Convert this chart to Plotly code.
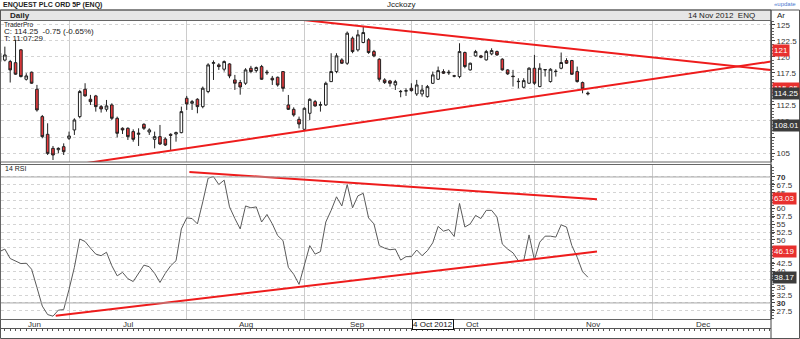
import plotly.graph_objects as go

# ---------------- data ----------------
# trading-day index k = 0 .. 110  (k=0 -> 13 Jun 2012, k=110 -> 15 Nov 2012)
opens = [120.58, 119.50, 119.27, 119.10, 121.10, 116.51, 117.61, 114.95, 110.68, 107.92,
         105.73, 105.52, 105.99, 107.30, 108.60, 110.68, 114.95, 113.39, 113.91, 112.24,
         111.83, 112.50, 110.42, 108.86, 108.86, 108.34, 107.92, 109.48, 108.28, 107.14,
         107.56, 107.19, 107.92, 107.97, 108.18, 113.55, 112.76, 113.39, 112.24, 114.59,
         119.00, 118.75, 118.08, 118.90, 116.41, 116.00, 115.89, 118.23, 117.86, 118.49,
         117.50, 116.67, 116.82, 117.71, 112.50, 111.82, 110.26, 108.70, 111.20, 113.02,
         112.45, 112.50, 116.14, 117.71, 119.53, 119.01, 122.92, 121.09, 122.24, 122.66,
         120.83, 119.63, 116.41, 116.25, 115.62, 114.63, 114.66, 115.10, 114.22, 114.22,
         113.80, 115.88, 116.51, 117.71, 117.50, 117.05, 116.93, 120.68, 117.97, 120.16,
         120.16, 119.53, 120.47, 120.83, 119.64, 117.97, 117.00, 116.20, 115.26, 115.89,
         118.23, 115.37, 117.97, 116.15, 117.71, 118.23, 119.43, 119.43, 117.71, 115.99,
         114.35]
highs = [121.10, 121.60, 119.53, 122.66, 121.20, 117.45, 117.71, 115.63, 110.94, 109.64,
         106.10, 105.89, 106.51, 108.34, 110.42, 114.85, 115.89, 114.07, 114.07, 112.50,
         113.28, 112.76, 110.68, 109.01, 109.01, 108.70, 108.86, 109.64, 108.86, 108.34,
         109.38, 107.45, 108.08, 108.34, 112.24, 113.91, 113.28, 113.55, 115.37, 119.01,
         119.45, 119.01, 119.45, 119.01, 117.19, 116.40, 118.24, 118.60, 118.49, 118.75,
         117.97, 117.03, 116.93, 117.75, 114.06, 112.13, 110.68, 112.13, 113.54, 113.28,
         113.02, 116.14, 120.57, 120.57, 119.79, 123.96, 123.18, 124.22, 124.74, 122.92,
         121.09, 119.79, 116.67, 116.41, 116.41, 114.84, 115.10, 115.88, 116.41, 115.62,
         115.62, 117.71, 118.49, 118.07, 117.97, 117.19, 122.13, 120.83, 119.11, 121.09,
         120.31, 121.09, 121.35, 120.99, 119.79, 118.07, 117.97, 116.67, 116.67, 118.39,
         120.31, 119.01, 118.07, 118.23, 118.07, 120.68, 119.79, 119.53, 118.49, 116.15,
         114.60]
lows = [118.90, 119.30, 116.00, 117.20, 116.80, 116.31, 115.80, 111.46, 107.30, 104.69,
        103.91, 104.95, 104.69, 107.04, 107.82, 110.42, 113.81, 112.50, 111.46, 111.31,
        111.46, 110.16, 107.45, 107.97, 107.04, 106.77, 106.10, 108.60, 107.82, 105.73,
        106.25, 106.10, 105.47, 106.77, 108.08, 111.72, 111.72, 111.20, 111.98, 114.33,
        116.40, 117.97, 117.71, 116.67, 114.85, 114.10, 115.63, 117.45, 117.55, 116.41,
        117.19, 115.62, 115.36, 114.58, 111.72, 110.68, 108.85, 108.59, 110.16, 112.24,
        111.46, 112.34, 116.10, 117.45, 118.90, 118.75, 120.57, 120.83, 122.13, 120.47,
        119.95, 116.14, 115.78, 115.36, 114.84, 113.70, 113.91, 114.58, 113.91, 113.80,
        113.65, 115.78, 116.41, 117.34, 117.19, 116.82, 116.67, 118.23, 117.86, 120.05,
        119.79, 119.43, 120.26, 120.16, 117.86, 117.19, 115.37, 115.11, 115.11, 115.78,
        115.63, 115.26, 116.93, 115.99, 116.93, 118.07, 118.91, 117.19, 115.99, 114.32,
        114.00]
closes = [119.27, 120.30, 117.97, 117.30, 116.93, 117.03, 115.89, 111.72, 107.56, 104.95,
          104.69, 105.73, 105.21, 107.66, 110.16, 114.59, 113.91, 113.02, 112.24, 111.88,
          112.35, 110.42, 108.08, 108.60, 107.56, 107.14, 108.08, 108.86, 108.60, 107.56,
          106.41, 106.25, 107.76, 108.18, 111.46, 112.66, 113.02, 112.24, 115.11, 118.75,
          119.10, 118.49, 119.27, 117.03, 115.89, 115.30, 117.97, 117.71, 118.33, 116.51,
          117.60, 116.41, 115.62, 115.10, 111.82, 110.94, 109.53, 111.98, 113.38, 112.34,
          112.55, 115.88, 117.71, 120.16, 119.01, 123.70, 120.83, 123.44, 123.80, 120.68,
          120.16, 116.51, 115.99, 115.88, 116.14, 114.58, 114.72, 114.74, 115.62, 114.84,
          115.36, 117.19, 117.86, 117.45, 117.60, 117.00, 120.83, 118.49, 119.01, 120.83,
          119.95, 120.83, 120.99, 120.31, 117.97, 117.35, 116.93, 116.15, 116.30, 118.23,
          115.89, 118.23, 118.02, 118.07, 117.75, 119.12, 119.01, 117.29, 116.15, 115.00,
          114.25]
rsi = [46.3, 47.1, 44.1, 43.2, 42.5, 42.6, 40.7, 34.9, 29.0, 26.3,
       25.8, 27.7, 27.9, 34.3, 41.3, 50.3, 49.5, 47.4, 45.5, 45.0,
       46.1, 41.8, 38.6, 39.7, 37.7, 36.8, 39.4, 42.0, 41.5, 39.4,
       36.5, 39.4, 41.8, 43.4, 53.5, 57.0, 56.8, 55.1, 62.1, 69.6,
       70.1, 67.6, 69.0, 60.5, 56.8, 53.5, 60.8, 60.2, 60.5, 55.7,
       58.1, 55.1, 51.4, 49.8, 41.3, 39.1, 35.9, 42.0, 48.2, 45.5,
       46.3, 55.7, 59.4, 63.7, 60.8, 67.6, 60.2, 64.0, 64.8, 57.0,
       55.1, 48.2, 47.4, 46.9, 47.1, 43.6, 44.7, 44.7, 46.8, 45.0,
       46.6, 49.1, 54.3, 52.8, 53.3, 51.1, 61.6, 54.1, 55.1, 57.8,
       56.8, 59.4, 59.4, 57.3, 48.7, 47.1, 45.9, 43.4, 43.4, 51.6,
       43.7, 49.3, 51.2, 51.2, 50.9, 54.8, 54.1, 48.2, 44.5, 39.9,
       38.17]
day_index = list(range(len(closes)))

month_names = ["Jun", "Jul", "Aug", "Sep", "Oct", "Nov", "Dec"]
month_edges = [0, 13, 35, 57, 77, 100, 122, 141]   # first session index of each month
x_range = [0.28, 144.23]

price_ticks = [105, 107.5, 110, 112.5, 115, 117.5, 120, 122.5, 125]
price_hidden = [107.5, 115]          # tick labels covered by value tags
rsi_ticks = [27.5, 30, 32.5, 35, 37.5, 40, 42.5, 45, 47.5, 50, 52.5, 55, 57.5, 60, 62.5, 65, 67.5, 70]
rsi_hidden = [37.5, 45, 62.5]
price_range = [103.6, 125.6]
rsi_range = [24.9, 73.8]

# trend lines (index, value)
price_upper_x, price_upper_y = [56.3, 144.23], [125.8, 117.94]
price_lower_x, price_lower_y = [16.3, 144.23], [103.44, 119.27]
rsi_upper_x, rsi_upper_y = [35.5, 111.7], [71.6, 62.9]
rsi_lower_x, rsi_lower_y = [10.5, 111.7], [25.9, 46.3]

# value tags on the axes
price_tags = [("121", 121.0, "#e8302e"), ("115.05", 115.05, "#e8302e"),
              ("114.25", 114.25, "#3c3c3c"), ("108.01", 109.3, "#3c3c3c")]
rsi_tags = [("63.03", 63.03, "#e8302e"), ("46.19", 46.19, "#e8302e"), ("38.17", 38.17, "#3c3c3c")]

# ---------------- figure ----------------
W, H = 800, 339
def px(x):
    return x / W
def py(y):
    return 1 - y / H

FONT = "Liberation Sans"
RED = "#ee1c1c"

fig = go.Figure()
fig.add_trace(go.Candlestick(
    x=day_index, open=opens, high=highs, low=lows, close=closes,
    increasing=dict(fillcolor="#ffffff", line=dict(color="#222222", width=1)),
    decreasing=dict(fillcolor="#e8393c", line=dict(color="#222222", width=1)),
    whiskerwidth=0, showlegend=False, xaxis="x", yaxis="y"))

for xs, ys in [(price_upper_x, price_upper_y), (price_lower_x, price_lower_y)]:
    fig.add_trace(go.Scatter(x=xs, y=ys, mode="lines", line=dict(color=RED, width=2),
                             showlegend=False, xaxis="x", yaxis="y"))

fig.add_trace(go.Scatter(x=day_index, y=rsi, mode="lines", line=dict(color="#5a5a5a", width=1),
                         showlegend=False, xaxis="x2", yaxis="y2"))
for xs, ys in [(rsi_upper_x, rsi_upper_y), (rsi_lower_x, rsi_lower_y)]:
    fig.add_trace(go.Scatter(x=xs, y=ys, mode="lines", line=dict(color=RED, width=2),
                             showlegend=False, xaxis="x2", yaxis="y2"))
# dummy for the bottom tick ruler axis
fig.add_trace(go.Scatter(x=[], y=[], xaxis="x3", yaxis="y2", showlegend=False))

grid = "#d4d4d4"
xdom = [px(1), px(771)]
common_x = dict(range=x_range, domain=xdom, tickvals=month_edges[1:-1], showticklabels=False,
                showgrid=True, gridcolor="#cccccc", gridwidth=1, zeroline=False, showline=False,
                ticks="", fixedrange=True, automargin=False)

def label(v, hidden, bold=()):
    if v in hidden:
        return ""
    s = "%g" % v
    return "<b>%s</b>" % s if v in bold else s

price_text = [label(v, price_hidden) for v in price_ticks]
rsi_text = [label(v, rsi_hidden, bold=(30, 70)) for v in rsi_ticks]

fig.update_layout(
    width=W, height=H, margin=dict(l=0, r=0, t=0, b=0),
    paper_bgcolor="white", plot_bgcolor="white", template="none",
    font=dict(family=FONT, size=8, color="#333333"),
    xaxis=dict(anchor="y", rangeslider=dict(visible=False), **common_x),
    xaxis2=dict(anchor="y2", **common_x),
    xaxis3=dict(range=x_range, domain=xdom, anchor="free", position=py(328), overlaying="x2",
                showline=True, linecolor="#555555", linewidth=1, showgrid=False, zeroline=False,
                tickvals=day_index + list(range(111, 145)), ticks="outside", ticklen=2,
                tickcolor="#555555", showticklabels=False, automargin=False),
    yaxis=dict(domain=[py(162), py(21)], range=price_range, side="right", anchor="x",
               tickvals=price_ticks, ticktext=price_text,
               showgrid=True, gridcolor=grid, griddash="dot", zeroline=False,
               showline=True, linecolor="#444444", ticks="outside", ticklen=3, tickcolor="#444444",
               minor=dict(ticks="outside", ticklen=2, dtick=0.5, tickcolor="#666666", showgrid=False),
               tickfont=dict(size=8, color="#333333"), automargin=False),
    yaxis2=dict(domain=[py(319), py(165)], range=rsi_range, side="right", anchor="x2",
                tickvals=rsi_ticks, ticktext=rsi_text,
                showgrid=True, gridcolor=grid, griddash="dot", zeroline=False,
                showline=True, linecolor="#444444", ticks="outside", ticklen=3, tickcolor="#444444",
                minor=dict(ticks="outside", ticklen=2, dtick=1, tickcolor="#666666", showgrid=False),
                tickfont=dict(size=8, color="#333333"), automargin=False),
)

shapes = []
# header bar
shapes.append(dict(type="rect", xref="paper", yref="paper", x0=px(0), x1=px(771), y0=py(20.5), y1=py(10),
                   fillcolor="#e6e6e6", line=dict(color="#777777", width=1), layer="below"))
# outer frame
shapes.append(dict(type="rect", xref="paper", yref="paper", x0=px(0.5), x1=px(799.5), y0=py(338.5), y1=py(10),
                   fillcolor="rgba(0,0,0,0)", line=dict(color="#555555", width=1)))
# panel frames
shapes.append(dict(type="rect", xref="paper", yref="paper", x0=px(0.5), x1=px(771), y0=py(162), y1=py(20.5),
                   fillcolor="rgba(0,0,0,0)", line=dict(color="#666666", width=1)))
shapes.append(dict(type="rect", xref="paper", yref="paper", x0=px(0.5), x1=px(771), y0=py(319.5), y1=py(164.5),
                   fillcolor="rgba(0,0,0,0)", line=dict(color="#666666", width=1)))
# axis column separator
shapes.append(dict(type="line", xref="paper", yref="paper", x0=px(771), x1=px(771), y0=py(338.5), y1=py(10),
                   line=dict(color="#444444", width=1)))
# 70 / 30 levels
for lv in (70, 30):
    shapes.append(dict(type="line", xref="paper", yref="y2", x0=xdom[0], x1=xdom[1], y0=lv, y1=lv,
                       line=dict(color="#a8a8a8", width=1)))
fig.update_layout(shapes=shapes)

ann = []
def txt(x, y, s, size=8, anchor="left", color="#222222", bold=False, **kw):
    ann.append(dict(x=px(x), y=py(y), xref="paper", yref="paper", text=("<b>%s</b>" % s) if bold else s,
                    showarrow=False, xanchor=anchor, yanchor="middle",
                    font=dict(family=FONT, size=size, color=color), **kw))

txt(1, 5, "ENQUEST PLC ORD 5P (ENQ)", size=7, bold=True)
txt(385, 5, "Jcckozy", size=8)
txt(798, 4, "«update", size=6, anchor="right", color="#4a7bd0")
txt(8, 15.5, "Daily", size=8, bold=True)
txt(757, 15.5, "14 Nov 2012  ENQ", size=8, anchor="right")
txt(775, 15.5, "Ar", size=8)
txt(2, 24, "TraderPro", size=6.5)
txt(2, 31.5, "C: 114.25  -0.75 (-0.65%)", size=8)
txt(2, 38.5, "T: 11:07:29", size=8)
txt(3, 168.5, "14 RSI", size=7)

for i, name in enumerate(month_names):
    mid = (month_edges[i] + month_edges[i + 1]) / 2
    ann.append(dict(x=mid, y=py(324), xref="x2", yref="paper", text=name, showarrow=False,
                    xanchor="center", yanchor="middle", font=dict(family=FONT, size=8, color="#333333")))
txt(433, 324, "4 Oct 2012", size=8, anchor="center", color="#111111",
    bgcolor="white", bordercolor="#111111", borderwidth=1, borderpad=0)

for lab, val, col in price_tags:
    ann.append(dict(x=px(772), y=val, xref="paper", yref="y", text=lab, showarrow=False,
                    xanchor="left", yanchor="middle", bgcolor=col, borderpad=1,
                    font=dict(family=FONT, size=8, color="white")))
for lab, val, col in rsi_tags:
    ann.append(dict(x=px(772), y=val, xref="paper", yref="y2", text=lab, showarrow=False,
                    xanchor="left", yanchor="middle", bgcolor=col, borderpad=1,
                    font=dict(family=FONT, size=8, color="white")))
fig.update_layout(annotations=ann)

fig.write_html("out.html")
